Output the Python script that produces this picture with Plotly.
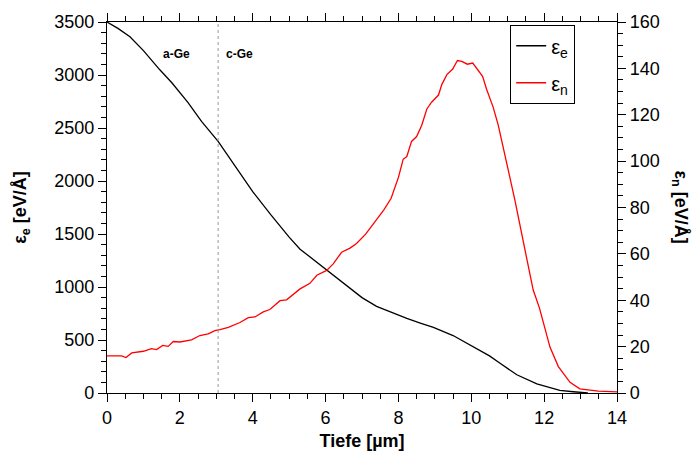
import plotly.graph_objects as go

# Electronic stopping (left axis)
depth_e = [0, 0.3, 0.63, 1.0, 1.45, 1.78, 2.22, 2.6, 3.05, 3.5, 4.0, 4.5, 5.0, 5.3, 5.7,
           6.03, 6.58, 7.0, 7.4, 7.8, 8.23, 8.6, 8.96, 9.5, 10.15, 10.5, 10.79, 11.25,
           11.8, 12.43, 12.8, 13.2]
eps_e = [3500, 3440, 3360, 3230, 3049, 2927, 2742, 2560, 2373, 2150, 1900, 1680, 1470,
         1357, 1250, 1157, 1018, 900, 818, 760, 705, 660, 619, 542, 418, 350, 280, 172,
         86, 25, 12, 0]

# Nuclear stopping (right axis)
depth_n = [0, 0.4, 0.52, 0.68, 1.0, 1.22, 1.36, 1.53, 1.68, 1.82, 2.0, 2.32, 2.55, 2.78,
           2.96, 3.1, 3.33, 3.65, 3.88, 4.06, 4.29, 4.47, 4.75, 4.93, 5.3, 5.57, 5.76,
           6.03, 6.21, 6.44, 6.67, 6.85, 7.1, 7.3, 7.6, 7.8, 8.0, 8.13, 8.23, 8.36, 8.5,
           8.64, 8.78, 8.91, 9.1, 9.19, 9.33, 9.49, 9.62, 9.74, 9.89, 10.04, 10.15, 10.31,
           10.42, 10.6, 10.74, 10.95, 11.2, 11.47, 11.7, 11.87, 12.16, 12.39, 12.71,
           12.98, 13.26, 13.49, 14.0]
eps_n = [16.0, 16.0, 15.3, 17.3, 18.0, 19.1, 18.7, 20.5, 20.1, 22.2, 22.0, 22.9, 24.8,
         25.5, 26.9, 27.3, 28.3, 30.4, 32.5, 32.8, 35.0, 36.0, 39.8, 40.2, 44.9, 47.3,
         50.8, 52.9, 55.7, 60.7, 62.5, 64.5, 68.5, 72.5, 79, 84, 93, 100.8, 102, 108.5,
         110.6, 115.5, 122.5, 125.4, 128.5, 133, 137.3, 139.7, 143.4, 143, 141.8, 142.3,
         140.1, 136.6, 131, 123.3, 115.5, 100.8, 83, 62, 44.4, 36.7, 19.8, 11.4, 4.6,
         1.8, 1.1, 0.8, 0.5]

interface_depth = 3.05
region_labels = ["a-Ge", "c-Ge"]
region_label_x = [1.92, 3.65]

FONT = "Liberation Sans, Arial, sans-serif"

fig = go.Figure()
fig.add_trace(go.Scatter(x=depth_e, y=eps_e, mode="lines", name="ε<sub>e</sub>",
                         line=dict(color="black", width=1.3), legendgroup="e"))
fig.add_trace(go.Scatter(x=depth_n, y=eps_n, mode="lines", name="ε<sub>n</sub>",
                         line=dict(color="#ff0000", width=1.3), yaxis="y2", legendgroup="n"))

fig.add_shape(type="line", x0=interface_depth, x1=interface_depth, y0=0, y1=1,
              xref="x", yref="paper", line=dict(color="#999999", width=1, dash="dot"))

for t, xv in zip(region_labels, region_label_x):
    fig.add_annotation(x=xv, y=0.937, xref="x", yref="paper", text="<b>%s</b>" % t,
                       showarrow=False, font=dict(size=12, color="black", family=FONT))

fig.add_annotation(x=1.1235, y=0.5, xref="paper", yref="paper", xanchor="center",
                   yanchor="middle", text="<b>ε<sub>n</sub> [eV/Å]</b>", textangle=90,
                   showarrow=False, font=dict(size=18, color="black", family=FONT))

axis_common = dict(showline=True, linecolor="black", linewidth=1.3, ticks="outside",
                   tickcolor="black", tickwidth=1.3, ticklen=8, showgrid=False,
                   zeroline=False, tickfont=dict(size=18, color="black", family=FONT))

fig.update_layout(
    width=698, height=459,
    margin=dict(l=107, r=81, t=17, b=62),
    plot_bgcolor="white", paper_bgcolor="white",
    font=dict(family=FONT, color="black"),
    xaxis=dict(range=[0, 14], dtick=2, mirror="ticks",
               minor=dict(dtick=0.5, ticks="outside", ticklen=5, tickcolor="black", tickwidth=1.3),
               title=dict(text="<b>Tiefe [µm]</b>", font=dict(size=18, family=FONT), standoff=7),
               **axis_common),
    yaxis=dict(range=[0, 3500], dtick=500,
               minor=dict(dtick=100, ticks="outside", ticklen=5, tickcolor="black", tickwidth=1.3),
               title=dict(text="<b>ε<sub>e</sub> [eV/Å]</b>", font=dict(size=18, family=FONT), standoff=22),
               **axis_common),
    yaxis2=dict(range=[0, 160], dtick=20, overlaying="y", side="right",
                minor=dict(dtick=5, ticks="outside", ticklen=5, tickcolor="black", tickwidth=1.3),
                **axis_common),
    legend=dict(x=0.79, y=0.992, xanchor="left", yanchor="top", bordercolor="black",
                borderwidth=1.3, bgcolor="white", font=dict(size=20, family=FONT),
                tracegroupgap=8),
    showlegend=True,
)

fig.write_html("out.html")
